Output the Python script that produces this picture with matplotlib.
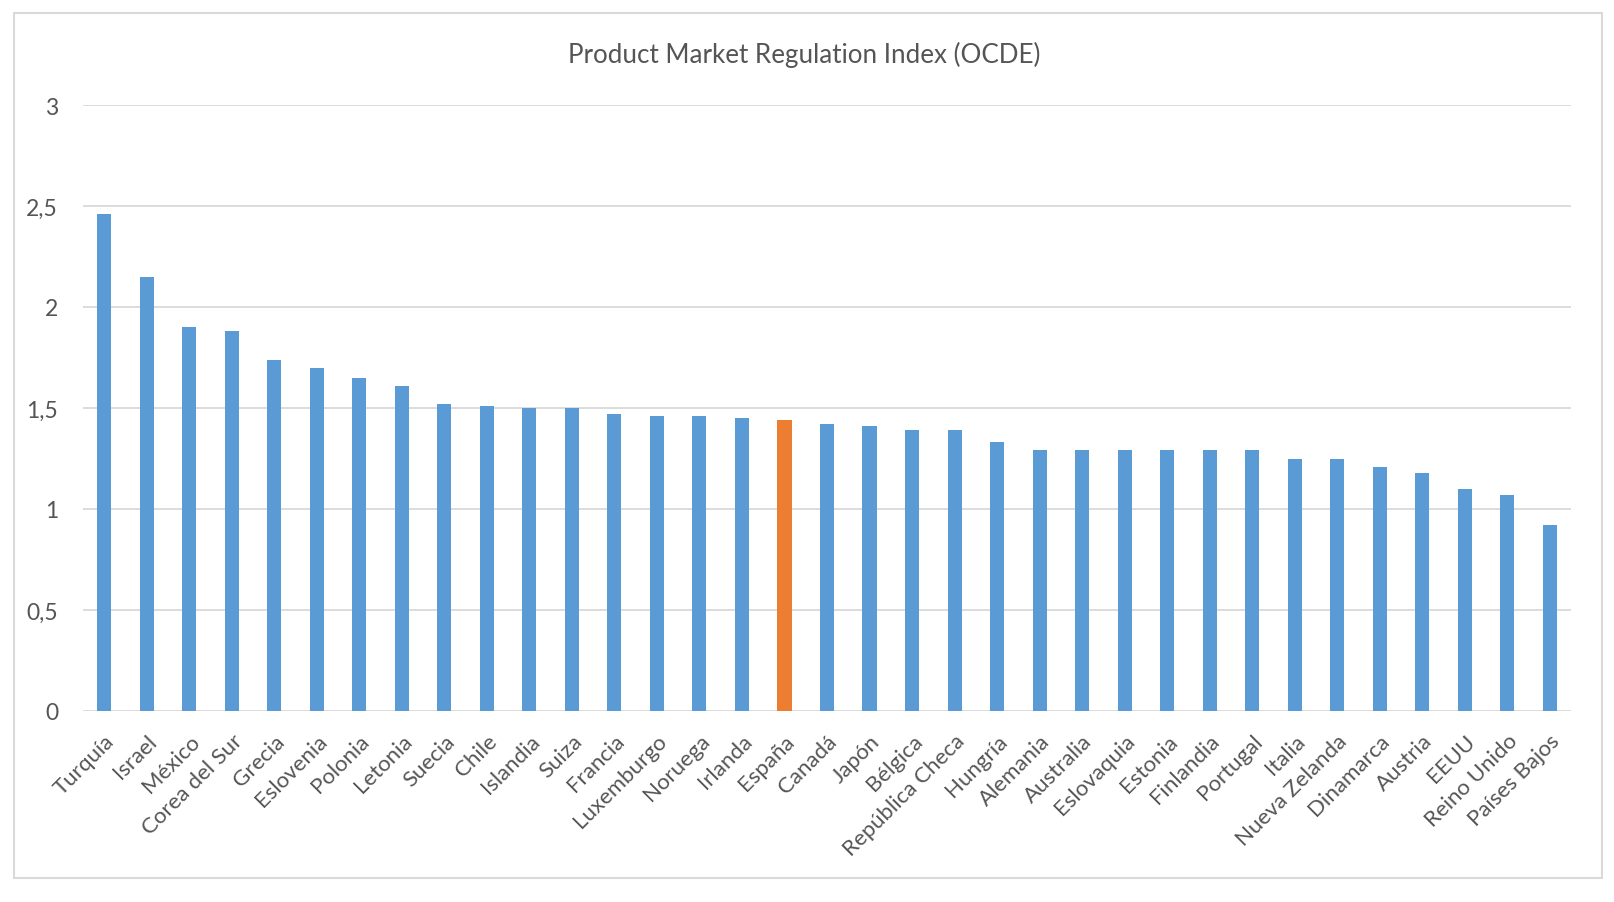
import matplotlib
matplotlib.use("Agg")
import matplotlib.pyplot as plt
from matplotlib.patches import Rectangle

countries = ["Turquía", "Israel", "México", "Corea del Sur", "Grecia", "Eslovenia",
             "Polonia", "Letonia", "Suecia", "Chile", "Islandia", "Suiza", "Francia",
             "Luxemburgo", "Noruega", "Irlanda", "España", "Canadá", "Japón", "Bélgica",
             "República Checa", "Hungría", "Alemania", "Australia", "Eslovaquia",
             "Estonia", "Finlandia", "Portugal", "Italia", "Nueva Zelanda", "Dinamarca",
             "Austria", "EEUU", "Reino Unido", "Países Bajos"]
pmr = [2.46, 2.15, 1.90, 1.88, 1.74, 1.70, 1.65, 1.61, 1.52, 1.51, 1.50, 1.50, 1.47,
       1.46, 1.46, 1.45, 1.44, 1.42, 1.41, 1.39, 1.39, 1.33, 1.29, 1.29, 1.29, 1.29,
       1.29, 1.29, 1.25, 1.25, 1.21, 1.18, 1.10, 1.07, 0.92]
highlight = "España"
yticks = [0, 0.5, 1, 1.5, 2, 2.5, 3]
ytick_labels = ["0", "0,5", "1", "1,5", "2", "2,5", "3"]

plt.rcParams['font.family'] = ['Lato', 'DejaVu Sans']
text_col = "#555555"
grid_col = "#D9D9D9"

fig = plt.figure(figsize=(16.14, 9.03), dpi=100)
ax = fig.add_axes([83 / 1614, 191 / 903, (1571 - 83) / 1614, (797 - 191) / 903])

colors = ["#ED7D31" if c == highlight else "#5B9BD5" for c in countries]
x = list(range(len(countries)))
ax.bar(x, pmr, width=0.33, color=colors, zorder=3)

ax.set_xlim(-0.5, len(countries) - 0.5)
ax.set_ylim(0, 3)
ax.set_yticks(yticks)
ax.set_yticklabels(ytick_labels, fontsize=16.5, color=text_col)
ax.set_xticks(x)
ax.set_xticklabels(countries, rotation=45, ha="right", rotation_mode="anchor",
                   fontsize=16, color=text_col)
ax.tick_params(axis="both", length=0)
ax.tick_params(axis="y", pad=18)
ax.tick_params(axis="x", pad=14)
ax.grid(axis="y", color=grid_col, linewidth=1.3, zorder=0)
for s in ax.spines.values():
    s.set_visible(False)

fig.text(804 / 1614, 1 - 55 / 903, "Product Market Regulation Index (OCDE)",
         ha="center", va="center", fontsize=18.7, color=text_col)

fig.patches.append(Rectangle((14 / 1614, 24 / 903), 1588 / 1614, 865 / 903,
                             transform=fig.transFigure, fill=False,
                             edgecolor=grid_col, linewidth=1.5))

fig.savefig("out.png", dpi=100)
